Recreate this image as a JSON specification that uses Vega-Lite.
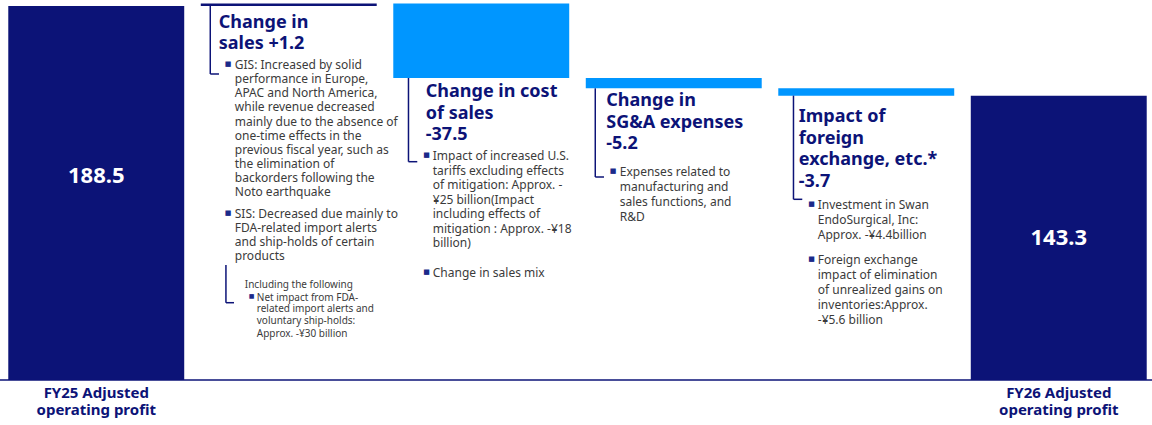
{
"$schema":"https://vega.github.io/schema/vega-lite/v6.json",
"width":1152,"height":380,
"autosize":{"type":"none"},
"padding":{"left":0,"top":0,"right":0,"bottom":45},
"background":"#ffffff",
"config":{"view":{"stroke":null}},
"datasets":{
 "bars":[
  {"col":"FY25","start":0,"end":188.5,"kind":"total","label":"188.5","name":["FY25 Adjusted","operating profit"]},
  {"col":"sales","start":188.5,"end":189.7,"kind":"up","label":"+1.2","name":""},
  {"col":"cost","start":189.7,"end":152.2,"kind":"down","label":"-37.5","name":""},
  {"col":"sga","start":152.2,"end":147.0,"kind":"down","label":"-5.2","name":""},
  {"col":"fx","start":147.0,"end":143.3,"kind":"down","label":"-3.7","name":""},
  {"col":"FY26","start":0,"end":143.3,"kind":"total","label":"143.3","name":["FY26 Adjusted","operating profit"]}
 ],
 "brackets":[
  {"col":"sales","level":1,"top":188.5,"bot":154.21},
  {"col":"cost","level":1,"top":152.2,"bot":110.01},
  {"col":"sga","level":1,"top":147.0,"bot":102.3},
  {"col":"fx","level":1,"top":143.3,"bot":91.06},
  {"col":"sales","level":2,"top":57.95,"bot":38.95}
 ],
 "notes":[
  {"col":"sales","k":"title","y":177.24,"t":"Change in"},
  {"col":"sales","k":"title","y":166.66,"t":"sales +1.2"},
  {"col":"sales","k":"body","y":156.73,"t":"GIS: Increased by solid","b":1},
  {"col":"sales","k":"body","y":149.60,"t":"performance in Europe,"},
  {"col":"sales","k":"body","y":142.47,"t":"APAC and North America,"},
  {"col":"sales","k":"body","y":135.33,"t":"while revenue decreased"},
  {"col":"sales","k":"body","y":128.20,"t":"mainly due to the absence of"},
  {"col":"sales","k":"body","y":121.07,"t":"one-time effects in the"},
  {"col":"sales","k":"body","y":113.94,"t":"previous fiscal year, such as"},
  {"col":"sales","k":"body","y":106.81,"t":"the elimination of"},
  {"col":"sales","k":"body","y":99.68,"t":"backorders following the"},
  {"col":"sales","k":"body","y":92.55,"t":"Noto earthquake"},
  {"col":"sales","k":"body","y":81.89,"t":"SIS: Decreased due mainly to","b":1},
  {"col":"sales","k":"body","y":74.76,"t":"FDA-related import alerts"},
  {"col":"sales","k":"body","y":67.63,"t":"and ship-holds of certain"},
  {"col":"sales","k":"body","y":60.50,"t":"products"},
  {"col":"sales","k":"small","y":46.56,"t":"Including the following"},
  {"col":"sales","k":"sub","y":40.01,"t":"Net impact from FDA-","b":1},
  {"col":"sales","k":"sub","y":34.02,"t":"related import alerts and"},
  {"col":"sales","k":"sub","y":27.97,"t":"voluntary ship-holds:"},
  {"col":"sales","k":"sub","y":21.87,"t":"Approx. -¥30 billion"},
  {"col":"cost","k":"title","y":142.47,"t":"Change in cost"},
  {"col":"cost","k":"title","y":131.63,"t":"of sales"},
  {"col":"cost","k":"title","y":120.80,"t":"-37.5"},
  {"col":"cost","k":"body","y":110.87,"t":"Impact of increased U.S.","b":1},
  {"col":"cost","k":"body","y":103.54,"t":"tariffs excluding effects"},
  {"col":"cost","k":"body","y":96.20,"t":"of mitigation: Approx. -"},
  {"col":"cost","k":"body","y":88.87,"t":"¥25 billion(Impact"},
  {"col":"cost","k":"body","y":81.54,"t":"including effects of"},
  {"col":"cost","k":"body","y":74.21,"t":"mitigation : Approx. -¥18"},
  {"col":"cost","k":"body","y":66.87,"t":"billion)"},
  {"col":"cost","k":"body","y":51.76,"t":"Change in sales mix","b":1},
  {"col":"sga","k":"title","y":137.93,"t":"Change in"},
  {"col":"sga","k":"title","y":126.99,"t":"SG&A expenses"},
  {"col":"sga","k":"title","y":116.26,"t":"-5.2"},
  {"col":"sga","k":"body","y":102.81,"t":"Expenses related to","b":1},
  {"col":"sga","k":"body","y":95.25,"t":"manufacturing and"},
  {"col":"sga","k":"body","y":87.69,"t":"sales functions, and"},
  {"col":"sga","k":"body","y":79.98,"t":"R&D"},
  {"col":"fx","k":"title","y":130.02,"t":"Impact of"},
  {"col":"fx","k":"title","y":119.08,"t":"foreign"},
  {"col":"fx","k":"title","y":108.20,"t":"exchange, etc.*"},
  {"col":"fx","k":"title","y":97.26,"t":"-3.7"},
  {"col":"fx","k":"body","y":86.38,"t":"Investment in Swan","b":1},
  {"col":"fx","k":"body","y":78.82,"t":"EndoSurgical, Inc:"},
  {"col":"fx","k":"body","y":71.16,"t":"Approx. -¥4.4billion"},
  {"col":"fx","k":"body","y":58.31,"t":"Foreign exchange","b":1},
  {"col":"fx","k":"body","y":50.75,"t":"impact of elimination"},
  {"col":"fx","k":"body","y":43.19,"t":"of unrealized gains on"},
  {"col":"fx","k":"body","y":35.63,"t":"inventories:Approx."},
  {"col":"fx","k":"body","y":28.07,"t":"-¥5.6 billion"}
 ]
},
"layer":[
 {"data":{"name":"bars"},"mark":{"type":"bar"},
  "encoding":{
   "x":{"field":"col","type":"nominal","sort":null,
    "scale":{"domain":["FY25","sales","cost","sga","fx","FY26"],"range":[0,1155],"paddingInner":0.086,"paddingOuter":0.043},
    "axis":null},
   "y":{"field":"start","type":"quantitative","scale":{"domain":[0,191.5],"nice":false,"zero":false},"axis":null},
   "y2":{"field":"end"},
   "color":{"field":"kind","type":"nominal","scale":{"domain":["total","up","down"],"range":["#0c1377","#0c1377","#0096ff"]},"legend":null}
  }},
 {"data":{"name":"bars"},"transform":[{"filter":"datum.col == 'FY25'"}],
  "mark":{"type":"rule","color":"#0c1377","strokeWidth":1.5},
  "encoding":{"y":{"datum":0,"type":"quantitative","axis":null}}},
 {"data":{"name":"bars"},"transform":[{"filter":"datum.kind == 'total'"}],
  "mark":{"type":"text","font":"Noto Sans","fontSize":15,"fontWeight":"bold","fill":"#0c1377","align":"center","baseline":"alphabetic","dy":18.3,"lineHeight":16.7},
  "encoding":{"x":{"field":"col","type":"nominal","axis":null},"y":{"field":"start","type":"quantitative","axis":null},"text":{"field":"name"}}},
 {"data":{"name":"bars"},"transform":[{"filter":"datum.col == 'FY25'"}],
  "mark":{"type":"text","font":"Noto Sans","fontSize":22,"fontWeight":"bold","fill":"#ffffff","align":"center","baseline":"alphabetic","dy":177.5},
  "encoding":{"x":{"field":"col","type":"nominal","axis":null},"y":{"field":"end","type":"quantitative","axis":null},"text":{"field":"label"}}},
 {"data":{"name":"bars"},"transform":[{"filter":"datum.col == 'FY26'"}],
  "mark":{"type":"text","font":"Noto Sans","fontSize":22,"fontWeight":"bold","fill":"#ffffff","align":"center","baseline":"alphabetic","dy":149.3},
  "encoding":{"x":{"field":"col","type":"nominal","axis":null},"y":{"field":"end","type":"quantitative","axis":null},"text":{"field":"label"}}},
 {"data":{"name":"brackets"},"transform":[{"filter":"datum.level == 1 && (datum.col == 'sales' || datum.col == 'sga')"}],
  "mark":{"type":"rule","color":"#0c1377","strokeWidth":1.5},
  "encoding":{"x":{"field":"col","type":"nominal","bandPosition":0.054,"axis":null},"y":{"field":"top","type":"quantitative","axis":null},"y2":{"field":"bot"}}},
 {"data":{"name":"brackets"},"transform":[{"filter":"datum.level == 1 && (datum.col == 'sales' || datum.col == 'sga')"}],
  "mark":{"type":"rule","color":"#0c1377","strokeWidth":1.5},
  "encoding":{"x":{"field":"col","type":"nominal","bandPosition":0.054,"axis":null},"x2":{"field":"col","bandPosition":0.1035},"y":{"field":"bot","type":"quantitative","axis":null}}},
 {"data":{"name":"brackets"},"transform":[{"filter":"datum.level == 1 && (datum.col == 'cost' || datum.col == 'fx')"}],
  "mark":{"type":"rule","color":"#0c1377","strokeWidth":1.5},
  "encoding":{"x":{"field":"col","type":"nominal","bandPosition":0.0864,"axis":null},"y":{"field":"top","type":"quantitative","axis":null},"y2":{"field":"bot"}}},
 {"data":{"name":"brackets"},"transform":[{"filter":"datum.level == 1 && (datum.col == 'cost' || datum.col == 'fx')"}],
  "mark":{"type":"rule","color":"#0c1377","strokeWidth":1.5},
  "encoding":{"x":{"field":"col","type":"nominal","bandPosition":0.0864,"axis":null},"x2":{"field":"col","bandPosition":0.1364},"y":{"field":"bot","type":"quantitative","axis":null}}},
 {"data":{"name":"brackets"},"transform":[{"filter":"datum.level == 2"}],
  "mark":{"type":"rule","color":"#0c1377","strokeWidth":1.5},
  "encoding":{"x":{"field":"col","type":"nominal","bandPosition":0.143,"axis":null},"y":{"field":"top","type":"quantitative","axis":null},"y2":{"field":"bot"}}},
 {"data":{"name":"brackets"},"transform":[{"filter":"datum.level == 2"}],
  "mark":{"type":"rule","color":"#0c1377","strokeWidth":1.5},
  "encoding":{"x":{"field":"col","type":"nominal","bandPosition":0.143,"axis":null},"x2":{"field":"col","bandPosition":0.189},"y":{"field":"bot","type":"quantitative","axis":null}}},
 {"data":{"name":"notes"},"transform":[{"filter":"datum.k == 'title' && datum.col == 'sales'"}],
  "mark":{"type":"text","font":"Noto Sans","fontSize":18,"fontWeight":"bold","fill":"#0c1377","align":"left","baseline":"alphabetic","dx":18},
  "encoding":{"x":{"field":"col","type":"nominal","bandPosition":0,"axis":null},"y":{"field":"y","type":"quantitative","axis":null},"text":{"field":"t"}}},
 {"data":{"name":"notes"},"transform":[{"filter":"datum.k == 'title' && datum.col == 'cost'"}],
  "mark":{"type":"text","font":"Noto Sans","fontSize":18,"fontWeight":"bold","fill":"#0c1377","align":"left","baseline":"alphabetic","dx":32.5},
  "encoding":{"x":{"field":"col","type":"nominal","bandPosition":0,"axis":null},"y":{"field":"y","type":"quantitative","axis":null},"text":{"field":"t"}}},
 {"data":{"name":"notes"},"transform":[{"filter":"datum.k == 'title' && (datum.col == 'sga' || datum.col == 'fx')"}],
  "mark":{"type":"text","font":"Noto Sans","fontSize":18,"fontWeight":"bold","fill":"#0c1377","align":"left","baseline":"alphabetic","dx":20.5},
  "encoding":{"x":{"field":"col","type":"nominal","bandPosition":0,"axis":null},"y":{"field":"y","type":"quantitative","axis":null},"text":{"field":"t"}}},
 {"data":{"name":"notes"},"transform":[{"filter":"datum.k == 'body' && (datum.col == 'sales' || datum.col == 'sga')"}],
  "mark":{"type":"text","font":"Noto Sans","fontSize":12,"fill":"#3b3b3b","align":"left","baseline":"alphabetic","dx":34},
  "encoding":{"x":{"field":"col","type":"nominal","bandPosition":0,"axis":null},"y":{"field":"y","type":"quantitative","axis":null},"text":{"field":"t"}}},
 {"data":{"name":"notes"},"transform":[{"filter":"datum.k == 'body' && (datum.col == 'cost' || datum.col == 'fx')"}],
  "mark":{"type":"text","font":"Noto Sans","fontSize":12,"fill":"#3b3b3b","align":"left","baseline":"alphabetic","dx":39.5},
  "encoding":{"x":{"field":"col","type":"nominal","bandPosition":0,"axis":null},"y":{"field":"y","type":"quantitative","axis":null},"text":{"field":"t"}}},
 {"data":{"name":"notes"},"transform":[{"filter":"datum.k == 'body' && datum.b == 1 && (datum.col == 'sales' || datum.col == 'sga')"}],
  "mark":{"type":"text","font":"DejaVu Sans","fontSize":7,"fill":"#1b2a8a","align":"left","baseline":"alphabetic","dx":24,"dy":-3},
  "encoding":{"x":{"field":"col","type":"nominal","bandPosition":0,"axis":null},"y":{"field":"y","type":"quantitative","axis":null},"text":{"value":"■"}}},
 {"data":{"name":"notes"},"transform":[{"filter":"datum.k == 'body' && datum.b == 1 && (datum.col == 'cost' || datum.col == 'fx')"}],
  "mark":{"type":"text","font":"DejaVu Sans","fontSize":7,"fill":"#1b2a8a","align":"left","baseline":"alphabetic","dx":30,"dy":-3},
  "encoding":{"x":{"field":"col","type":"nominal","bandPosition":0,"axis":null},"y":{"field":"y","type":"quantitative","axis":null},"text":{"value":"■"}}},
 {"data":{"name":"notes"},"transform":[{"filter":"datum.k == 'small'"}],
  "mark":{"type":"text","font":"Noto Sans","fontSize":10,"fill":"#3b3b3b","align":"left","baseline":"alphabetic","dx":44},
  "encoding":{"x":{"field":"col","type":"nominal","bandPosition":0,"axis":null},"y":{"field":"y","type":"quantitative","axis":null},"text":{"field":"t"}}},
 {"data":{"name":"notes"},"transform":[{"filter":"datum.k == 'sub'"}],
  "mark":{"type":"text","font":"Noto Sans","fontSize":10,"fill":"#3b3b3b","align":"left","baseline":"alphabetic","dx":56},
  "encoding":{"x":{"field":"col","type":"nominal","bandPosition":0,"axis":null},"y":{"field":"y","type":"quantitative","axis":null},"text":{"field":"t"}}},
 {"data":{"name":"notes"},"transform":[{"filter":"datum.k == 'sub' && datum.b == 1"}],
  "mark":{"type":"text","font":"DejaVu Sans","fontSize":6,"fill":"#1b2a8a","align":"left","baseline":"alphabetic","dx":48,"dy":-2.5},
  "encoding":{"x":{"field":"col","type":"nominal","bandPosition":0,"axis":null},"y":{"field":"y","type":"quantitative","axis":null},"text":{"value":"■"}}}
]
}
